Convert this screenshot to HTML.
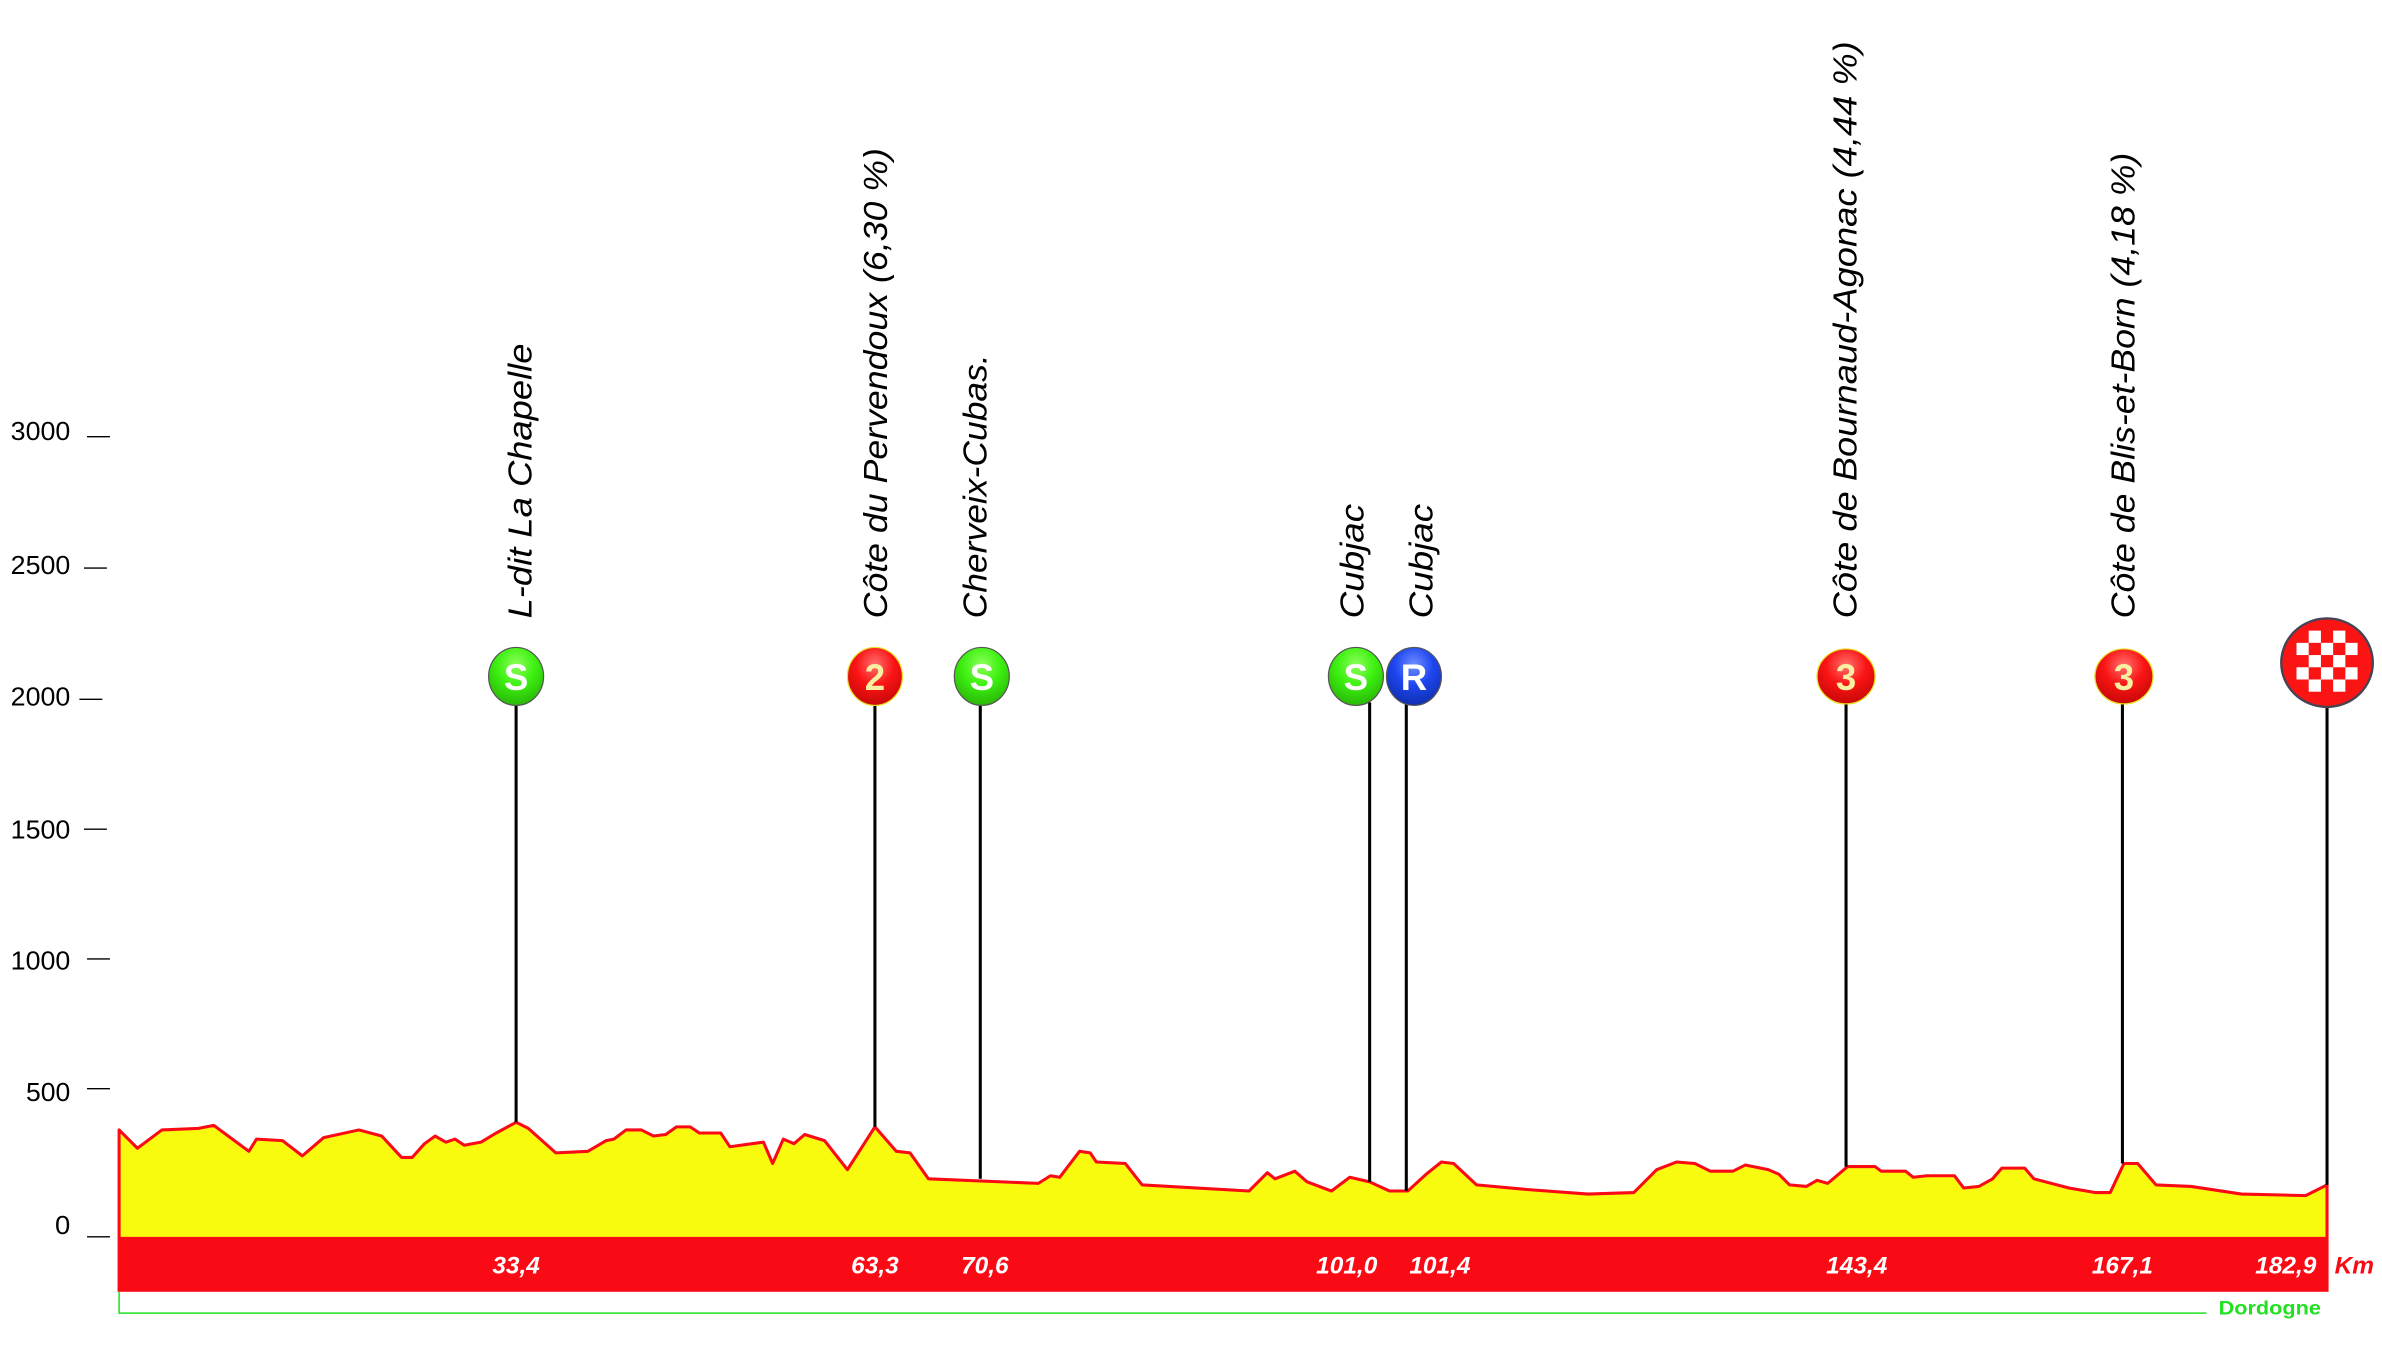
<!DOCTYPE html>
<html><head><meta charset="utf-8"><style>
html,body{margin:0;padding:0;background:#fff;}
svg{display:block;}
</style></head><body>
<svg width="2382" height="1346" viewBox="0 0 1560 881.5" preserveAspectRatio="none" xmlns="http://www.w3.org/2000/svg" font-family="Liberation Sans, sans-serif">
<defs>
<radialGradient id="gG" cx="50%" cy="30%" r="70%"><stop offset="0" stop-color="#8dff5a"/><stop offset="0.5" stop-color="#3cf010"/><stop offset="1" stop-color="#2ab808"/></radialGradient>
<radialGradient id="gR" cx="50%" cy="30%" r="70%"><stop offset="0" stop-color="#ff7070"/><stop offset="0.5" stop-color="#fa1414"/><stop offset="1" stop-color="#c80808"/></radialGradient>
<radialGradient id="gB" cx="50%" cy="30%" r="70%"><stop offset="0" stop-color="#7090ff"/><stop offset="0.5" stop-color="#1e46f0"/><stop offset="1" stop-color="#1030b0"/></radialGradient>
</defs>
<g font-size="17" fill="#000" text-anchor="end">
<text x="46" y="288" textLength="39" lengthAdjust="spacingAndGlyphs">3000</text>
<text x="46" y="376" textLength="39" lengthAdjust="spacingAndGlyphs">2500</text>
<text x="46" y="462" textLength="39" lengthAdjust="spacingAndGlyphs">2000</text>
<text x="46" y="549" textLength="39" lengthAdjust="spacingAndGlyphs">1500</text>
<text x="46" y="635" textLength="39" lengthAdjust="spacingAndGlyphs">1000</text>
<text x="46" y="721" textLength="29" lengthAdjust="spacingAndGlyphs">500</text>
<text x="46" y="808" textLength="10" lengthAdjust="spacingAndGlyphs">0</text>
</g>
<g stroke="#000" stroke-width="0.9">
<line x1="57" y1="286" x2="72" y2="286"/><line x1="55" y1="372" x2="70" y2="372"/>
<line x1="52" y1="458" x2="67" y2="458"/><line x1="55" y1="543" x2="70" y2="543"/>
<line x1="57" y1="628" x2="72" y2="628"/><line x1="57" y1="713" x2="72" y2="713"/>
<line x1="57" y1="810" x2="72" y2="810"/>
</g>
<polygon fill="#f9fb0e" stroke="#fa0a14" stroke-width="2" stroke-linejoin="round" points="78,811 78,740 90,752 106,740 130,739 140,737 163,754 168,746 185,747 198,757 212,745 235,740 250,744 263,758 270,758 278,749 285,744 292,748 298,746 304,750 315,748 325,742 338,735 346,739 364,755 385,754 397,747 402,746 410,740 420,740 428,744 436,743 443,738 452,738 458,742 472,742 478,751 500,748 506,762 513,746 520,749 527,743 540,747 555,766 573,738 587,754 596,755 608,772 680,775 688,770 694,771 707,754 714,755 718,761 737,762 748,776 818,780 830,768 835,772 848,767 856,774 872,780 884,771 897,774 910,780 922,780 934,769 944,761 952,762 967,776 1000,779 1040,782 1070,781 1085,766 1098,761 1110,762 1120,767 1135,767 1143,763 1158,766 1165,769 1172,776 1183,777 1190,773 1197,775 1210,764 1228,764 1232,767 1248,767 1253,771 1262,770 1280,770 1286,778 1296,777 1305,772 1311,765 1326,765 1332,772 1355,778 1372,781 1382,781 1391,762 1400,762 1412,776 1435,777 1468,782 1510,783 1524,776 1524,811"/>
<rect x="77" y="811" width="1448" height="35" fill="#fa0a14"/>
<polyline points="78,846 78,860 1445,860" fill="none" stroke="#22e022" stroke-width="1"/>
<text x="1453" y="861" font-size="12.5" font-weight="bold" fill="#22e022" textLength="67" lengthAdjust="spacingAndGlyphs">Dordogne</text>
<g font-size="16" font-weight="bold" font-style="italic" fill="#fff" text-anchor="middle">
<text x="338" y="834">33,4</text><text x="573" y="834">63,3</text><text x="645" y="834">70,6</text>
<text x="882" y="834">101,0</text><text x="943" y="834">101,4</text><text x="1216" y="834">143,4</text>
<text x="1390" y="834">167,1</text><text x="1497" y="834">182,9</text>
</g>
<text x="1529" y="834" font-size="16" font-weight="bold" font-style="italic" fill="#fa0a14">Km</text>
<g stroke="#000" stroke-width="2">
<line x1="338" y1="460" x2="338" y2="735"/><line x1="573" y1="460" x2="573" y2="738"/>
<line x1="642" y1="460" x2="642" y2="772"/><line x1="897" y1="460" x2="897" y2="774"/>
<line x1="921" y1="460" x2="921" y2="780"/><line x1="1209" y1="460" x2="1209" y2="764"/>
<line x1="1390" y1="460" x2="1390" y2="762"/><line x1="1524" y1="455" x2="1524" y2="776"/>
</g>
<g stroke="#555" stroke-width="0.8" font-weight="bold" font-size="24" text-anchor="middle">
<ellipse cx="338" cy="443" rx="18" ry="19" fill="url(#gG)"/><text x="338" y="452" fill="#fff" stroke="none">S</text>
<ellipse cx="573" cy="443" rx="18" ry="19" fill="url(#gR)" stroke="#e8e020"/><text x="573" y="452" fill="#f8f0a0" stroke="none">2</text>
<ellipse cx="643" cy="443" rx="18" ry="19" fill="url(#gG)"/><text x="643" y="452" fill="#fff" stroke="none">S</text>
<ellipse cx="888" cy="443" rx="18" ry="19" fill="url(#gG)"/><text x="888" y="452" fill="#fff" stroke="none">S</text>
<ellipse cx="926" cy="443" rx="18" ry="19" fill="url(#gB)"/><text x="926" y="452" fill="#fff" stroke="none">R</text>
<ellipse cx="1209" cy="443" rx="19" ry="18" fill="url(#gR)" stroke="#e8e020"/><text x="1209" y="452" fill="#f8f0a0" stroke="none">3</text>
<ellipse cx="1391" cy="443" rx="19" ry="18" fill="url(#gR)" stroke="#e8e020"/><text x="1391" y="452" fill="#f8f0a0" stroke="none">3</text>
</g>
<ellipse cx="1524" cy="434" rx="30" ry="29" fill="#fa1414" stroke="#445" stroke-width="1.5"/>
<g fill="#fff">
<rect x="1512" y="413" width="8" height="8"/><rect x="1528" y="413" width="8" height="8"/>
<rect x="1504" y="421" width="8" height="8"/><rect x="1520" y="421" width="8" height="8"/><rect x="1536" y="421" width="8" height="8"/>
<rect x="1512" y="429" width="8" height="8"/><rect x="1528" y="429" width="8" height="8"/>
<rect x="1504" y="437" width="8" height="8"/><rect x="1520" y="437" width="8" height="8"/><rect x="1536" y="437" width="8" height="8"/>
<rect x="1512" y="445" width="8" height="8"/><rect x="1528" y="445" width="8" height="8"/>
</g>
<g font-size="22" font-style="italic" fill="#000" text-anchor="start">
<text transform="translate(348,405) rotate(-90)" textLength="180" lengthAdjust="spacingAndGlyphs">L-dit La Chapelle</text>
<text transform="translate(581,405) rotate(-90)" textLength="308" lengthAdjust="spacingAndGlyphs">Côte du Pervendoux (6,30 %)</text>
<text transform="translate(646,405) rotate(-90)" textLength="173" lengthAdjust="spacingAndGlyphs">Cherveix-Cubas.</text>
<text transform="translate(893,405) rotate(-90)" textLength="75" lengthAdjust="spacingAndGlyphs">Cubjac</text>
<text transform="translate(938,405) rotate(-90)" textLength="75" lengthAdjust="spacingAndGlyphs">Cubjac</text>
<text transform="translate(1216,405) rotate(-90)" textLength="378" lengthAdjust="spacingAndGlyphs">Côte de Bournaud-Agonac (4,44 %)</text>
<text transform="translate(1398,405) rotate(-90)" textLength="305" lengthAdjust="spacingAndGlyphs">Côte de Blis-et-Born (4,18 %)</text>
</g>
</svg>
</body></html>
